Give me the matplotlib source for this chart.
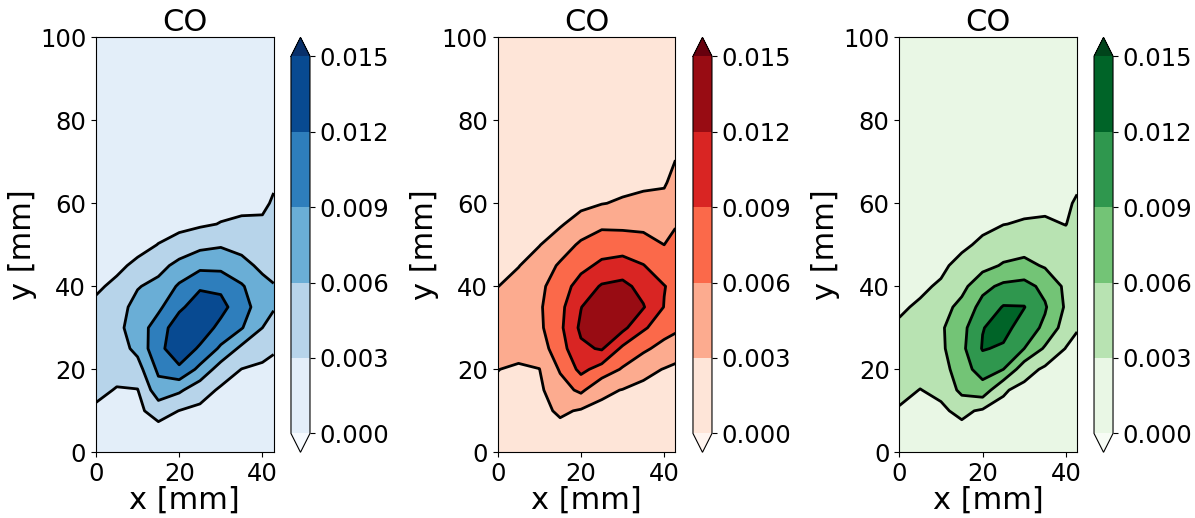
import numpy as np
import matplotlib
matplotlib.use("Agg")
import matplotlib.pyplot as plt

# ===================== data =====================
# grid nodes (mm)
x_mm = [0, 5, 10, 15, 20, 25, 30, 35, 40, 42.7]
y_mm = [0, 5, 10, 15, 20, 25, 30, 35, 40, 45, 50, 55, 60, 65, 70, 80, 100]

levels = [0.000, 0.003, 0.006, 0.009, 0.012, 0.015]
titles = ["CO", "CO", "CO"]
cmaps = ["Blues", "Reds", "Greens"]

# CO values, unit 1e-3
# one list per x column (x_mm order), values from y = 0 up to y = 100
co_blue = [
    [1.5, 2.0, 2.6, 3.6, 4.2, 4.5, 4.3, 3.4, 2.7, 2.3, 2.0, 1.8, 1.6, 1.5, 1.4, 1.3, 1.2],
    [1.6, 2.0, 2.4, 2.85, 3.8, 4.6, 5.2, 4.8, 3.4, 2.6, 2.1, 1.9, 1.7, 1.5, 1.4, 1.3, 1.2],
    [1.5, 2.0, 2.4, 2.9, 4.8, 6.8, 7.5, 7.0, 5.8, 3.4, 2.4, 2.0, 1.8, 1.6, 1.5, 1.3, 1.2],
    [1.4, 1.9, 4.2, 7.8, 9.6, 11.2, 10.4, 8.4, 6.9, 5.0, 3.05, 2.3, 2.0, 1.7, 1.5, 1.3, 1.2],
    [1.3, 2.0, 2.95, 6.5, 11.5, 13.8, 13.8, 11.4, 9.4, 6.9, 4.0, 2.3, 2.0, 1.7, 1.5, 1.3, 1.2],
    [1.3, 1.8, 2.4, 4.2, 8.2, 11.6, 13.6, 13.6, 11.6, 8.2, 5.2, 2.6, 2.0, 1.7, 1.5, 1.3, 1.2],
    [1.2, 1.6, 2.0, 2.6, 4.6, 8.5, 11.2, 12.9, 11.4, 8.1, 5.7, 3.1, 2.2, 1.8, 1.6, 1.3, 1.2],
    [1.2, 1.5, 1.8, 2.3, 2.95, 5.3, 9.2, 10.3, 9.3, 7.0, 5.0, 3.4, 2.4, 1.9, 1.6, 1.3, 1.2],
    [1.2, 1.4, 1.7, 2.1, 2.6, 3.8, 6.0, 7.4, 7.0, 5.3, 4.2, 3.4, 2.5, 1.9, 1.6, 1.3, 1.2],
    [1.2, 1.4, 1.7, 2.0, 2.5, 3.2, 4.6, 6.3, 6.2, 4.8, 4.2, 3.8, 3.3, 2.7, 2.0, 1.4, 1.2],
]

co_red = [
    [1.5, 1.8, 2.2, 2.6, 3.05, 4.2, 4.8, 4.3, 2.95, 2.5, 2.2, 2.0, 1.8, 1.6, 1.5, 1.3, 1.2],
    [1.5, 1.8, 2.1, 2.5, 2.6, 4.0, 5.0, 4.9, 4.0, 2.9, 2.4, 2.1, 1.9, 1.7, 1.5, 1.3, 1.2],
    [1.5, 1.8, 2.1, 2.5, 2.95, 4.5, 5.4, 5.6, 5.3, 4.3, 2.9, 2.4, 2.1, 1.8, 1.6, 1.3, 1.2],
    [1.4, 2.0, 3.5, 4.8, 6.3, 7.8, 8.4, 8.2, 7.6, 6.4, 4.5, 2.7, 2.2, 1.9, 1.6, 1.3, 1.2],
    [1.3, 1.9, 2.7, 6.6, 9.8, 11.4, 12.6, 11.9, 10.2, 8.2, 6.5, 4.2, 2.3, 2.0, 1.7, 1.4, 1.2],
    [1.3, 1.7, 2.3, 3.6, 7.8, 12.3, 14.3, 14.6, 12.3, 9.6, 7.6, 5.4, 2.9, 2.2, 1.8, 1.4, 1.2],
    [1.2, 1.6, 2.0, 2.9, 5.7, 8.4, 12.8, 13.8, 12.8, 10.2, 7.6, 5.3, 3.3, 2.3, 1.9, 1.4, 1.2],
    [1.2, 1.5, 1.8, 2.4, 3.7, 6.6, 9.4, 12.2, 11.0, 9.1, 7.2, 5.2, 3.7, 2.5, 2.0, 1.4, 1.2],
    [1.2, 1.4, 1.7, 2.2, 2.9, 4.9, 7.4, 8.9, 9.1, 7.5, 6.0, 5.0, 3.8, 2.7, 2.1, 1.5, 1.2],
    [1.2, 1.4, 1.7, 2.1, 2.5, 4.3, 6.6, 8.0, 8.3, 7.6, 6.8, 5.8, 4.8, 3.9, 3.05, 1.8, 1.2],
]

co_green = [
    [1.4, 1.8, 2.8, 3.6, 4.0, 3.8, 3.3, 2.7, 2.3, 2.0, 1.8, 1.6, 1.5, 1.4, 1.3, 1.2, 1.1],
    [1.5, 1.9, 2.4, 2.95, 3.8, 4.4, 4.2, 3.3, 2.6, 2.2, 1.9, 1.7, 1.5, 1.4, 1.3, 1.2, 1.1],
    [1.4, 1.9, 2.6, 3.5, 4.6, 5.4, 5.6, 4.8, 3.3, 2.5, 2.1, 1.8, 1.6, 1.5, 1.4, 1.2, 1.1],
    [1.4, 2.2, 3.6, 6.8, 7.8, 8.3, 8.0, 6.9, 5.1, 3.8, 2.5, 2.1, 1.8, 1.6, 1.4, 1.2, 1.1],
    [1.4, 1.9, 2.6, 7.8, 10.2, 12.2, 11.9, 10.0, 8.2, 5.0, 3.5, 2.4, 2.0, 1.7, 1.5, 1.3, 1.1],
    [1.3, 1.8, 2.3, 3.3, 9.0, 11.6, 13.0, 12.2, 9.6, 6.3, 4.4, 2.95, 2.2, 1.8, 1.5, 1.3, 1.1],
    [1.2, 1.6, 2.0, 2.2, 4.2, 9.0, 10.6, 12.1, 10.0, 6.8, 4.8, 3.2, 2.4, 1.9, 1.6, 1.3, 1.1],
    [1.2, 1.5, 1.8, 2.2, 2.5, 5.6, 8.4, 9.3, 8.2, 5.7, 4.5, 3.3, 2.5, 2.0, 1.6, 1.3, 1.1],
    [1.2, 1.4, 1.7, 2.0, 2.4, 2.9, 4.6, 5.6, 5.4, 4.6, 3.8, 2.95, 2.6, 2.1, 1.7, 1.3, 1.1],
    [1.2, 1.4, 1.6, 1.9, 2.2, 2.6, 3.1, 4.5, 5.0, 4.6, 4.1, 3.7, 3.3, 2.6, 2.0, 1.4, 1.1],
]

# ===================== layout =====================
AX_LEFT = [0.0803, 0.4165, 0.7526]
CB_LEFT = [0.2435, 0.5799, 0.9155]
BOTTOM, HEIGHT = 0.1268, 0.8012
AX_W, CB_W = 0.1487, 0.0159

TICK_FS = 17.5
LABEL_FS = 22


def draw_panel(fig, i, values, cmap, title):
    X, Y = np.meshgrid(x_mm, y_mm)
    Z = np.array(values).T * 1e-3

    ax = fig.add_axes([AX_LEFT[i], BOTTOM, AX_W, HEIGHT])
    cax = fig.add_axes([CB_LEFT[i], BOTTOM, CB_W, HEIGHT])

    cf = ax.contourf(X, Y, Z, levels=levels, cmap=cmap, extend='both')
    ax.contour(X, Y, Z, levels=levels, colors='k', linewidths=2)

    ax.set_xlim(0, 42.7)
    ax.set_ylim(0, 100)
    ax.set_xticks([0, 20, 40])
    ax.set_yticks([0, 20, 40, 60, 80, 100])
    ax.tick_params(labelsize=TICK_FS)
    ax.set_xlabel("x [mm]", fontsize=LABEL_FS, labelpad=0)
    ax.set_ylabel("y [mm]", fontsize=LABEL_FS, labelpad=2)
    ax.set_title(title, fontsize=LABEL_FS, pad=2)

    cb = fig.colorbar(cf, cax=cax, ticks=levels, format='%.3f')
    cb.ax.tick_params(labelsize=TICK_FS)


def main():
    fig = plt.figure(figsize=(11.95, 5.18), dpi=100)
    for i, vals in enumerate([co_blue, co_red, co_green]):
        draw_panel(fig, i, vals, cmaps[i], titles[i])
    fig.savefig("out.png", dpi=100)
    plt.close(fig)


if __name__ == "__main__":
    main()
